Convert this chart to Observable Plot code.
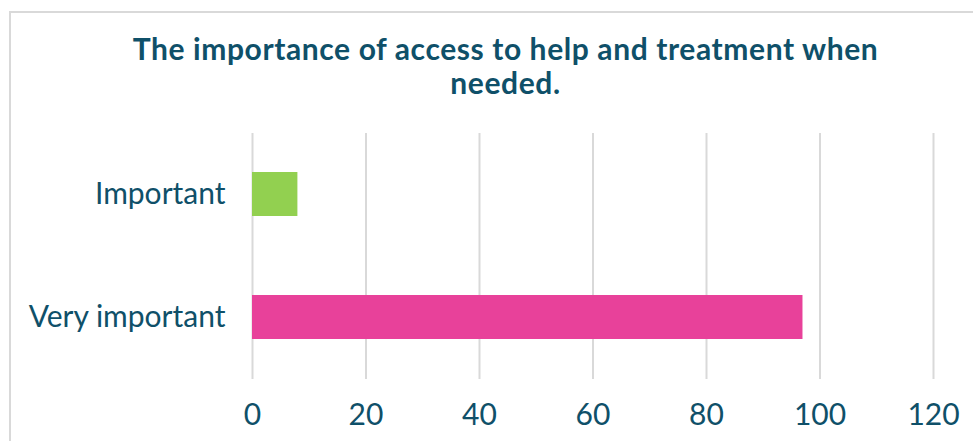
<!DOCTYPE html>
<html>
<head>
<meta charset="utf-8">
<script src="https://cdn.jsdelivr.net/npm/d3@7"></script>
<script src="https://cdn.jsdelivr.net/npm/@observablehq/plot@0.6"></script>
<style>
  html, body { margin: 0; padding: 0; background: #fff; overflow: hidden; }
  #wrap { position: relative; width: 973px; height: 441px; overflow: hidden; }
  #frame { position: absolute; left: 9px; top: 11px; width: 1100px; height: 600px; border: 2px solid #d9d9d9; box-sizing: border-box; }
  #title { position: absolute; left: 9px; width: 993px; top: 31px; text-align: center;
           font-family: Lato, "Open Sans", sans-serif; font-weight: bold; font-size: 30px; letter-spacing: 0.6px; line-height: 34px; color: #0f5069; }
  #chart { position: absolute; left: 0; top: 0; }
</style>
</head>
<body>
<div id="wrap">
  <div id="frame"></div>
  <div id="title">The importance of access to help and treatment when<br>needed.</div>
  <div id="chart"></div>
</div>
<script>
const categories = ["Important", "Very important"];
const values = [8, 97];
const barColors = ["#92d050", "#e8419a"];
const xTicks = [0, 20, 40, 60, 80, 100, 120];

const data = categories.map((c, i) => ({category: c, value: values[i]}));

const chart = Plot.plot({
  width: 973,
  height: 441,
  marginLeft: 252,
  marginRight: 40,
  marginTop: 133,
  marginBottom: 62,
  style: {fontFamily: "Lato, 'Open Sans', sans-serif", fontSize: "30px", color: "#0f5069", background: "transparent"},
  x: {domain: [0, 120], ticks: xTicks, label: null},
  y: {domain: categories, paddingInner: 0.642, paddingOuter: 0.321, label: null},
  color: {domain: categories, range: barColors},
  marks: [
    Plot.gridX(xTicks, {stroke: "#d9d9d9", strokeOpacity: 1, strokeWidth: 2}),
    Plot.barX(data, {x: "value", y: "category", fill: "category"}),
    Plot.axisX(xTicks, {tickSize: 0, tickPadding: 24, fontSize: 30, fill: "#0f5069", label: null}),
    Plot.axisY({tickSize: 0, tickPadding: 27, fontSize: 30, fill: "#0f5069", label: null})
  ]
});
document.getElementById("chart").appendChild(chart);
</script>
</body>
</html>
